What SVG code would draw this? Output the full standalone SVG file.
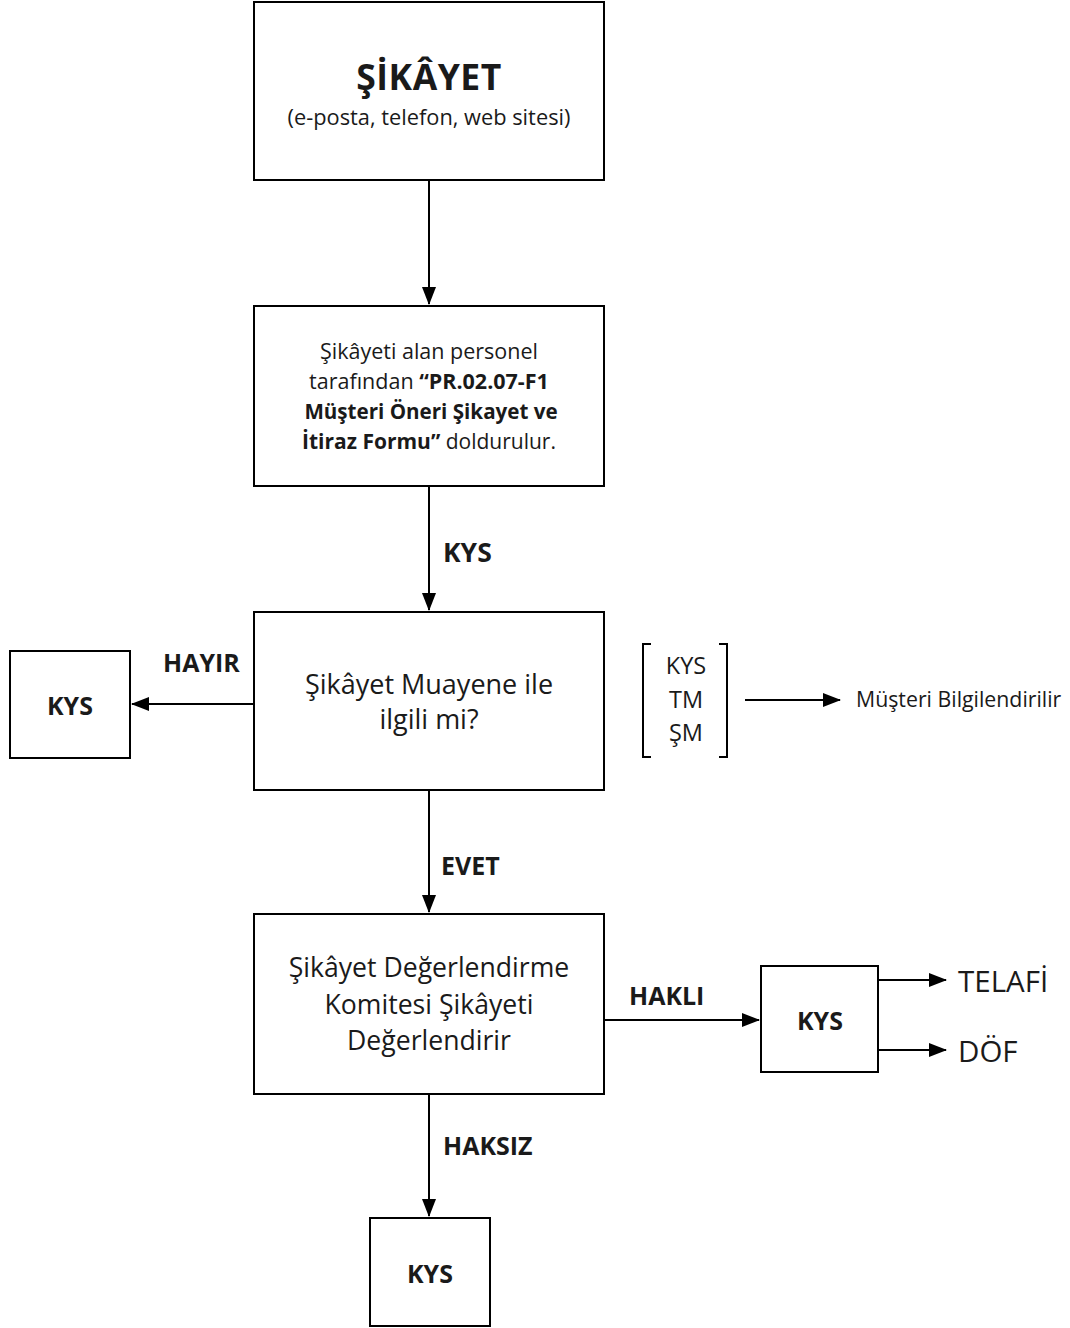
<svg xmlns="http://www.w3.org/2000/svg" width="1070" height="1328" viewBox="0 0 1070 1328">
<style>
.box{fill:#fff;stroke:#000;stroke-width:2}
.t{font-family:"Open Sans","Noto Sans",sans-serif;fill:#1a1a1a}
.b{font-weight:bold}
.c{text-anchor:middle}
.ln{stroke:#000;stroke-width:2;fill:none}
</style>
<defs>
<marker id="ahL" markerWidth="18" markerHeight="14" refX="17" refY="7" orient="auto" markerUnits="userSpaceOnUse" viewBox="0 0 18 14">
<path d="M0,0 L18,7 L0,14 Z" fill="#000"/>
</marker>
</defs>
<rect width="1070" height="1328" fill="#fff"/>
<g id="n1">
<rect class="box" x="254" y="2" width="350" height="178"/>
<text class="t b c" x="429" y="90" font-size="35.5" letter-spacing="0.5">ŞİKÂYET</text>
<text class="t c" x="429" y="125" font-size="21.8">(e-posta, telefon, web sitesi)</text>
</g>
<g id="n2">
<rect class="box" x="254" y="306" width="350" height="180"/>
<text class="t c" x="429" y="359" font-size="21.5">Şikâyeti alan personel</text>
<text class="t c" x="429" y="389" font-size="21.5">tarafından <tspan class="b">“PR.02.07-F1</tspan></text>
<text class="t b c" x="431" y="419" font-size="20.6">Müşteri Öneri Şikayet ve</text>
<text class="t c" x="429" y="449" font-size="21">
<tspan class="b">İtiraz Formu”</tspan> doldurulur.</text>
</g>
<g id="n3">
<rect class="box" x="254" y="612" width="350" height="178"/>
<text class="t c" x="429" y="694" font-size="27">Şikâyet Muayene ile</text>
<text class="t c" x="429" y="729" font-size="27">ilgili mi?</text>
</g>
<g id="n4">
<rect class="box" x="10" y="651" width="120" height="107"/>
<text class="t b c" x="70" y="715" font-size="25">KYS</text>
</g>
<g id="n5">
<path class="ln" d="M651,644 H643 V757 H651" stroke-width="1.5"/>
<path class="ln" d="M719,644 H727 V757 H719" stroke-width="1.5"/>
<text class="t c" x="686" y="674" font-size="23.5">KYS</text>
<text class="t c" x="686" y="708" font-size="23.5">TM</text>
<text class="t c" x="686" y="741" font-size="23.5">ŞM</text>
</g>
<g id="n6">
<text class="t" x="856" y="707" font-size="21.3">Müşteri Bilgilendirilir</text>
</g>
<g id="n7">
<rect class="box" x="254" y="914" width="350" height="180"/>
<text class="t c" x="429" y="977" font-size="26.6">Şikâyet Değerlendirme</text>
<text class="t c" x="429" y="1014" font-size="26.6">Komitesi Şikâyeti</text>
<text class="t c" x="429" y="1050" font-size="26.6">Değerlendirir</text>
</g>
<g id="n8">
<rect class="box" x="761" y="966" width="117" height="106"/>
<text class="t b c" x="820" y="1030" font-size="25">KYS</text>
</g>
<g id="n9">
<text class="t" x="958" y="992" font-size="29.5">TELAFİ</text>
</g>
<g id="n10">
<text class="t" x="958" y="1062" font-size="29.5">DÖF</text>
</g>
<g id="n11">
<rect class="box" x="370" y="1218" width="120" height="108"/>
<text class="t b c" x="430" y="1283" font-size="25">KYS</text>
</g>
<g id="connectors">
<line class="ln" x1="429" y1="181" x2="429" y2="304" marker-end="url(#ahL)"/>
<line class="ln" x1="429" y1="487" x2="429" y2="610" marker-end="url(#ahL)"/>
<line class="ln" x1="429" y1="791" x2="429" y2="912" marker-end="url(#ahL)"/>
<line class="ln" x1="429" y1="1095" x2="429" y2="1216" marker-end="url(#ahL)"/>
<line class="ln" x1="253" y1="704" x2="132" y2="704" marker-end="url(#ahL)"/>
<line class="ln" x1="605" y1="1020" x2="759" y2="1020" marker-end="url(#ahL)"/>
<line class="ln" x1="879" y1="980" x2="946" y2="980" marker-end="url(#ahL)"/>
<line class="ln" x1="879" y1="1050" x2="946" y2="1050" marker-end="url(#ahL)"/>
<line class="ln" x1="745" y1="700" x2="840" y2="700" marker-end="url(#ahL)"/>
<text class="t b" x="443" y="562" font-size="26.5">KYS</text>
<text class="t b" x="163" y="672" font-size="25">HAYIR</text>
<text class="t b" x="441" y="875" font-size="25">EVET</text>
<text class="t b" x="629" y="1005" font-size="25">HAKLI</text>
<text class="t b" x="443" y="1155" font-size="25">HAKSIZ</text>
</g>
</svg>
